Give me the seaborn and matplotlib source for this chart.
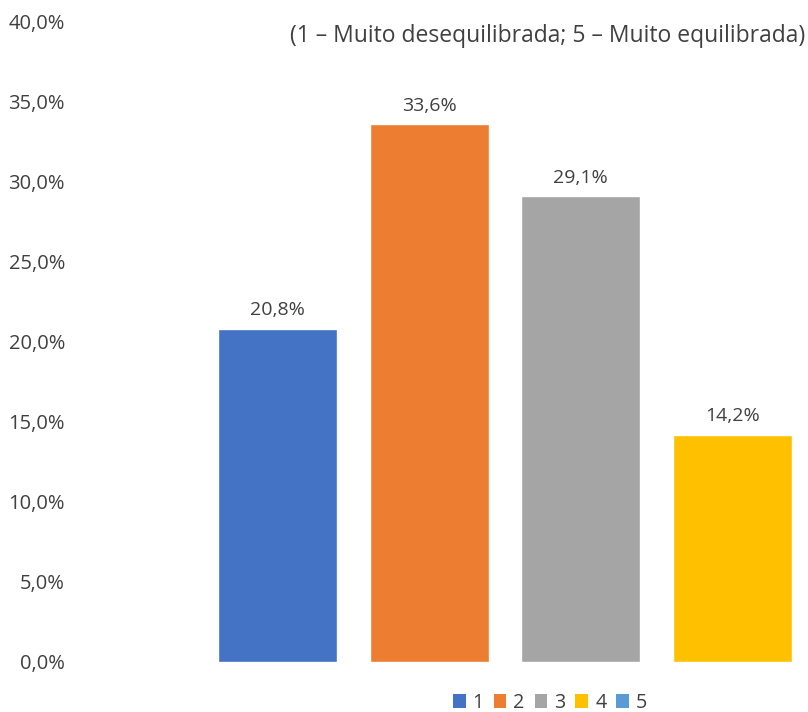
import matplotlib
matplotlib.use("Agg")
import matplotlib.pyplot as plt
from matplotlib.patches import Patch
import seaborn as sns
import pandas as pd

categories = ["1", "2", "3", "4", "5"]
shown_categories = ["1", "2", "3", "4"]
values = [20.8, 33.6, 29.1, 14.2]
colors = ["#4472C4", "#ED7D31", "#A5A5A5", "#FFC000", "#5B9BD5"]
y_ticks = [0, 5, 10, 15, 20, 25, 30, 35, 40]
subtitle = "(1 – Muito desequilibrada; 5 – Muito equilibrada)"

sns.set_theme(style="white")
plt.rcParams["font.family"] = ["Open Sans", "DejaVu Sans"]
text_color = "#404040"

df = pd.DataFrame({"cat": shown_categories, "val": values})

W, H = 808, 712
fig = plt.figure(figsize=(W / 100, H / 100), dpi=100)
# plot area: one category slot is 151.5 px wide, first slot starts at x=202
ax = fig.add_axes([202 / W, 50 / H, 757.5 / W, 640 / H])

sns.barplot(data=df, x="cat", y="val", hue="cat", order=categories,
            hue_order=categories, palette=colors, width=0.785,
            legend=False, ax=ax, saturation=1)

ax.set_xlim(-0.5, 4.5)
ax.set_ylim(0, 40)
ax.set_yticks(y_ticks)
ax.set_yticklabels([f"{v:.1f}%".replace(".", ",") for v in y_ticks],
                   color=text_color, fontsize=14.5)
ax.tick_params(axis="y", length=0, pad=137 * 72 / 100)
ax.tick_params(axis="x", length=0, labelbottom=False)
ax.set_xlabel("")
ax.set_ylabel("")
for s in ax.spines.values():
    s.set_visible(False)
ax.grid(False)

for i, v in enumerate(values):
    ax.annotate(f"{v:.1f}%".replace(".", ","), (i, v), xytext=(0, 7),
                textcoords="offset points", ha="center", va="bottom",
                color=text_color, fontsize=14)

fig.text(805 / W, 1 - 36 / H, subtitle, ha="right", va="center",
         color=text_color, fontsize=16.5)

handles = [Patch(facecolor=c, edgecolor="none") for c in colors]
fig.legend(handles, categories, loc="center", bbox_to_anchor=(550 / W, 1 - 703 / H),
           ncol=5, frameon=False, fontsize=14.2, handlelength=0.65, handleheight=0.65,
           handletextpad=0.35, columnspacing=0.5, labelcolor=text_color)

fig.savefig("out.png", dpi=100)
